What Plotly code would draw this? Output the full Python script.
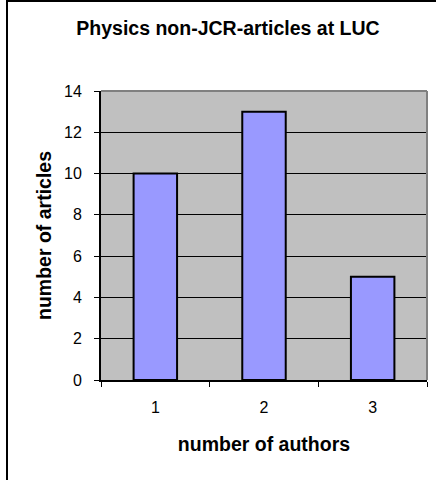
import plotly.graph_objects as go

categories = ["1", "2", "3"]
articles = [10, 13, 5]
y_ticks = [0, 2, 4, 6, 8, 10, 12, 14]

FONT = "Liberation Sans, Arial, sans-serif"

fig = go.Figure(go.Bar(
    x=categories, y=articles,
    marker=dict(color="#9999FF", line=dict(color="black", width=2)),
))

W, H = 436, 480
L, R, T, B = 101, 9, 91, 100
pw, ph = W - L - R, H - T - B

def px_x(p):
    return (p - L) / pw

def px_y(p):
    return 1 - (p - T) / ph

fig.update_layout(
    width=W, height=H,
    margin=dict(l=L, r=R, t=T, b=B, pad=0),
    paper_bgcolor="white",
    plot_bgcolor="#C0C0C0",
    bargap=0.6,
    showlegend=False,
    font=dict(family=FONT, size=16, color="black"),
    title=dict(text="<b>Physics non-JCR-articles at LUC</b>",
               x=228 / W, xanchor="center", y=1 - 28 / H, yanchor="middle",
               font=dict(family=FONT, size=19.5, color="black")),
    xaxis=dict(
        type="category", tickson="boundaries", ticks="outside", ticklen=5,
        tickcolor="black", tickwidth=1, showgrid=False,
        showline=True, linecolor="black", linewidth=2,
        tickfont=dict(size=16), range=[-0.5, 2.5], ticklabelstandoff=12,
        title=dict(text="<b>number of authors</b>", font=dict(size=19.5), standoff=22),
    ),
    yaxis=dict(
        range=[0, 14], tickvals=y_ticks, ticks="outside", ticklen=5,
        tickcolor="black", tickwidth=1,
        showgrid=True, gridcolor="black", gridwidth=1,
        showline=True, linecolor="black", linewidth=2, zeroline=False,
        tickfont=dict(size=16), ticklabelstandoff=9,
        title=dict(text="<b>number of articles</b>", font=dict(size=19.5), standoff=7),
    ),
    shapes=[
        dict(type="line", xref="paper", yref="paper", x0=0, x1=1, y0=1, y1=1,
             line=dict(color="#808080", width=2)),
        dict(type="line", xref="paper", yref="paper", x0=1, x1=1, y0=0, y1=1,
             line=dict(color="#808080", width=2)),
        dict(type="line", xref="paper", yref="paper", x0=px_x(7), x1=px_x(7),
             y0=px_y(0), y1=px_y(H), line=dict(color="black", width=2)),
        dict(type="line", xref="paper", yref="paper", x0=px_x(7), x1=px_x(W),
             y0=px_y(1), y1=px_y(1), line=dict(color="black", width=2)),
    ],
)

fig.write_html("out.html")
